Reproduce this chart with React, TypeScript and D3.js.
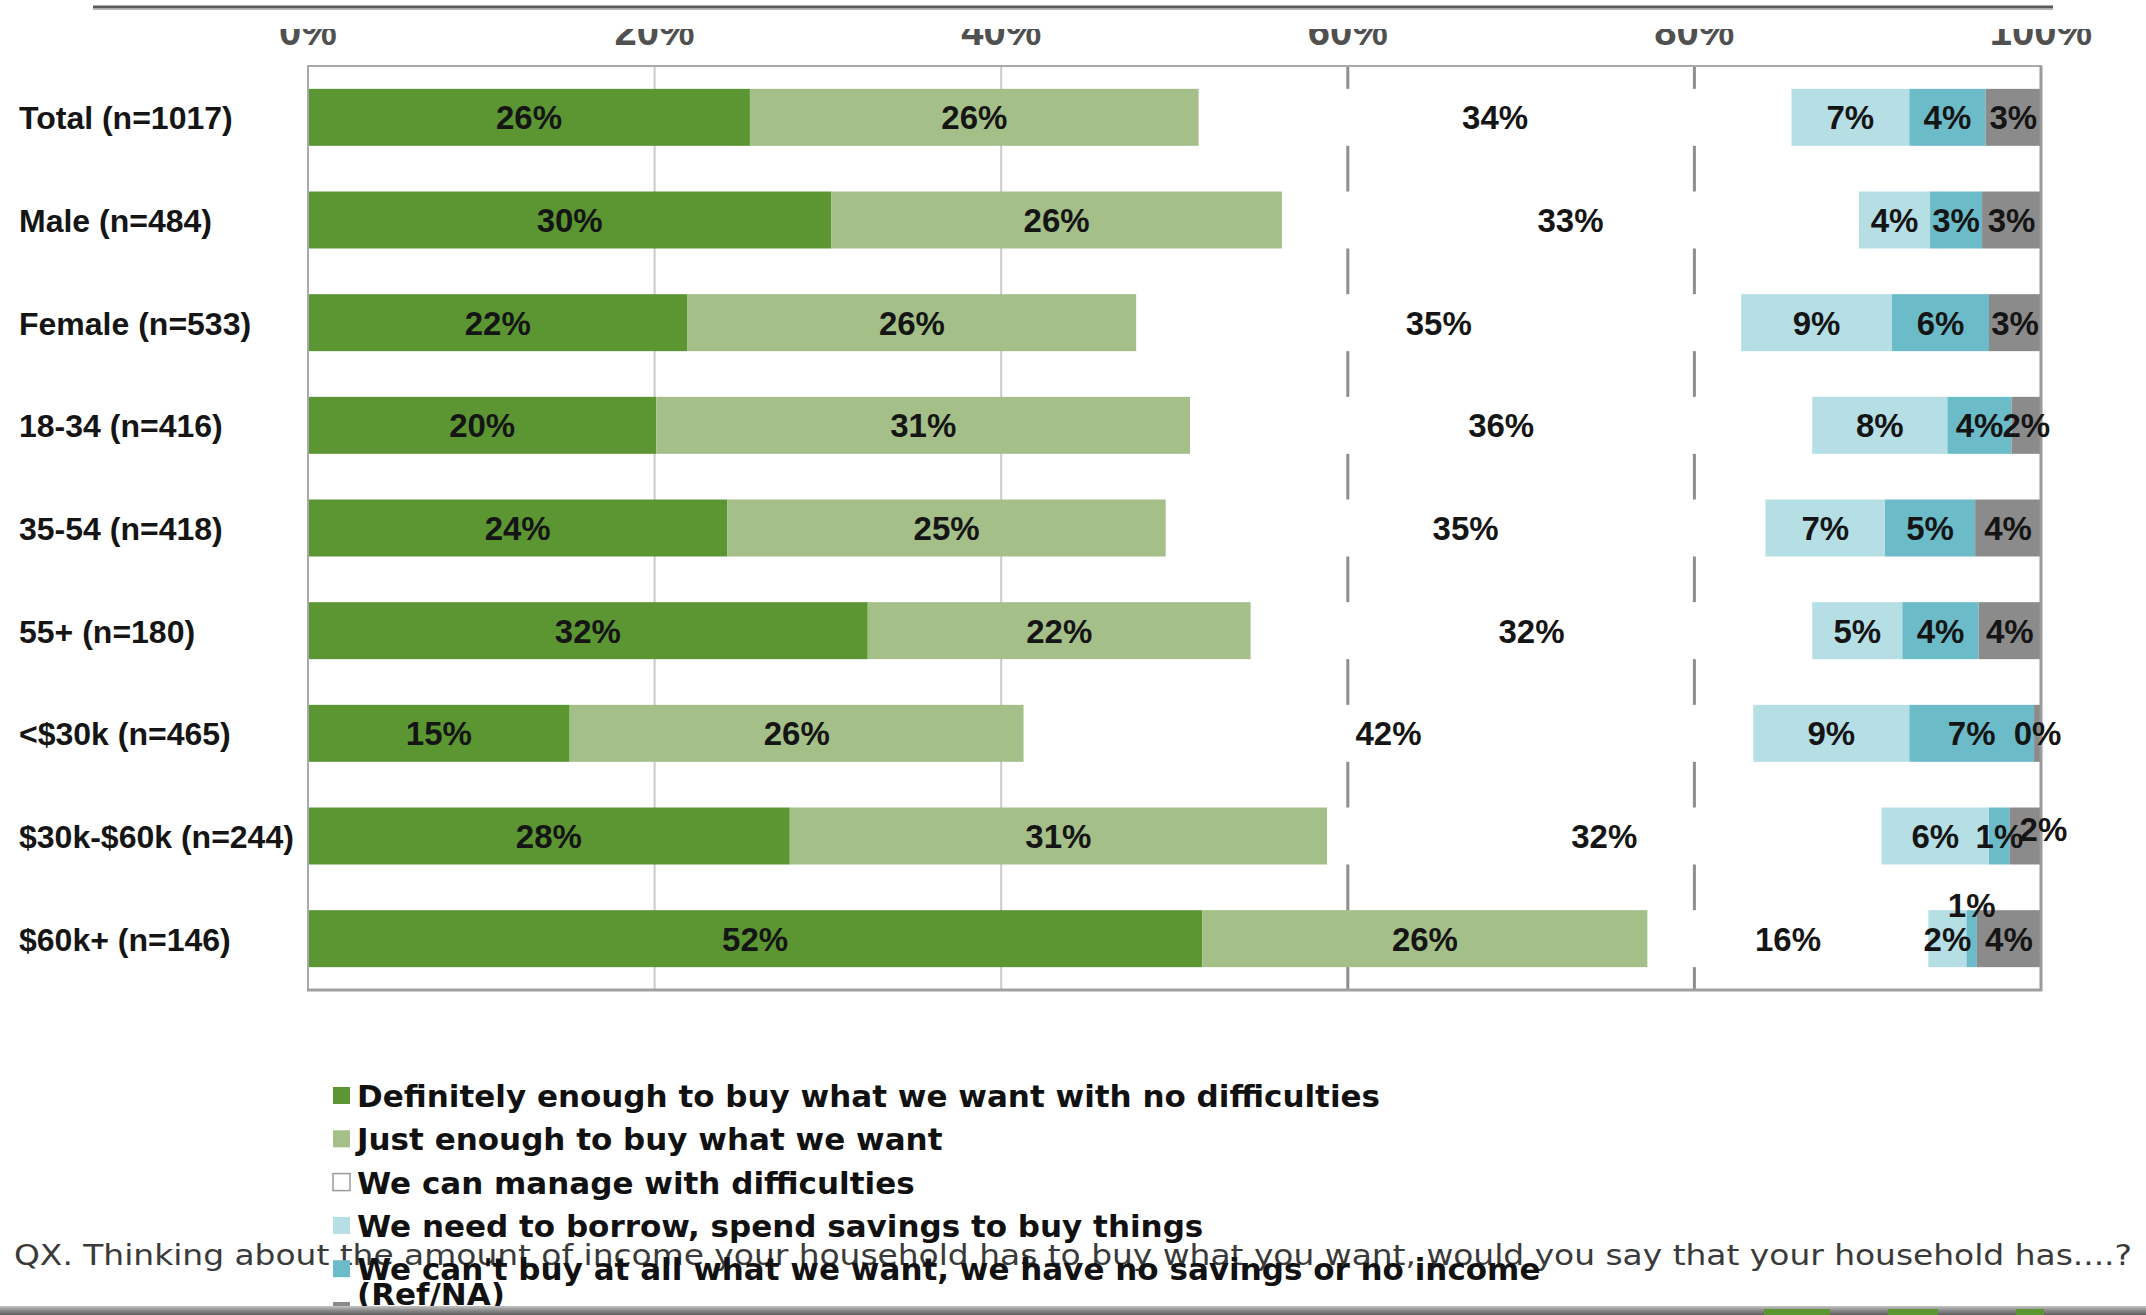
import React from "react";
import * as d3 from "d3";

const categories = [
  "Total (n=1017)",
  "Male (n=484)",
  "Female (n=533)",
  "18-34 (n=416)",
  "35-54 (n=418)",
  "55+ (n=180)",
  "<$30k (n=465)",
  "$30k-$60k (n=244)",
  "$60k+ (n=146)",
];

const seriesNames = [
  "Definitely enough to buy what we want with no difficulties",
  "Just enough to buy what we want",
  "We can manage with difficulties",
  "We need to borrow, spend savings to buy things",
  "We can't buy at all what we want, we have no savings or no income",
  "(Ref/NA)",
];

const definitelyEnough = [25.5, 30.2, 21.9, 20.1, 24.2, 32.3, 15.1, 27.8, 51.6];
const justEnough = [25.9, 26.0, 25.9, 30.8, 25.3, 22.1, 26.2, 31.0, 25.7];
const manageDifficulties = [34.2, 33.3, 34.9, 35.9, 34.6, 32.4, 42.1, 32.0, 16.2];
const needBorrow = [6.8, 4.1, 8.7, 7.8, 6.9, 5.2, 9.0, 6.2, 2.2];
const cantBuy = [4.4, 3.0, 5.6, 3.7, 5.2, 4.4, 7.2, 1.2, 0.6];
const refNA = [3.2, 3.4, 3.0, 1.7, 3.8, 3.6, 0.4, 1.8, 3.7];

const tickValues = [0, 20, 40, 60, 80, 100];
const footnote =
  "QX. Thinking about the amount of income your household has to buy what you want, would you say that your household has....?";

const colors = ["#5b9633", "#a4bf88", "#ffffff", "#b5dee5", "#6bbcc8", "#8b8b8b"];
const seriesKeys = ["s0", "s1", "s2", "s3", "s4", "s5"];

// label nudges for crowded tiny segments (category index, series index) -> [dx, dy]
const labelNudge: Record<string, [number, number]> = {
  "7-5": [18, -7],
  "8-4": [0, -34],
};

export default function App() {
  const W = 2146;
  const H = 1315;
  const x = d3.scaleLinear().domain([0, 100]).range([308, 2041]);
  const y = d3
    .scaleBand<string>()
    .domain(categories)
    .range([66, 990])
    .paddingInner(0.445)
    .paddingOuter(0.2225);

  const allSeries = [definitelyEnough, justEnough, manageDifficulties, needBorrow, cantBuy, refNA];
  const rows = categories.map((c, i) => {
    const r: any = { cat: c };
    seriesKeys.forEach((k, j) => (r[k] = allSeries[j][i]));
    return r;
  });
  const stacked = d3.stack<any>().keys(seriesKeys)(rows);

  const bw = y.bandwidth();
  const legendY = [1087, 1130.3, 1173.6, 1216.9, 1260.2, 1302];
  const legendTextY = [1107, 1150.3, 1193.6, 1236.9, 1280.2, 1305];

  return (
    <svg
      width={W}
      height={H}
      style={{ position: "absolute", left: 0, top: 0, background: "#fff" }}
    >
      <defs>
        <clipPath id="tickClip">
          <rect x={0} y={29} width={W} height={30} />
        </clipPath>
        <linearGradient id="bottomBand" x1="0" y1="0" x2="0" y2="1">
          <stop offset="0%" stopColor="#c4c4c4" />
          <stop offset="50%" stopColor="#8a8a8a" />
          <stop offset="100%" stopColor="#5e5e5e" />
        </linearGradient>
      </defs>
      <rect x={0} y={0} width={W} height={H} fill="#fff" />

      {/* top rule */}
      <line x1={93} x2={2053} y1={7} y2={7} stroke="#5a5a5a" strokeWidth={3} />
      <line x1={93} x2={2053} y1={9.5} y2={9.5} stroke="#b5b5b5" strokeWidth={1} />

      {/* clipped tick labels */}
      <g clipPath="url(#tickClip)">
        {tickValues.map((t) => (
          <text
            key={t}
            x={x(t)}
            y={45}
            textAnchor="middle"
            fontFamily="'Liberation Sans', Arial, sans-serif"
            fontWeight="bold"
            fontSize={40}
            fill="#505050"
          >
            {t + "%"}
          </text>
        ))}
      </g>

      {/* gridlines */}
      {tickValues
        .filter((t) => t > 0 && t < 100)
        .map((t) => (
          <line
            key={t}
            x1={x(t)}
            x2={x(t)}
            y1={66}
            y2={990}
            stroke={t >= 60 ? "#8e8e8e" : "#c9c9d1"}
            strokeWidth={t >= 60 ? 3 : 2}
          />
        ))}

      {/* bars */}
      {stacked.map((s, si) => (
        <g key={s.key}>
          {s.map((d, ci) => (
            <rect
              key={ci}
              x={x(d[0])}
              y={y(categories[ci])}
              width={x(d[1]) - x(d[0])}
              height={bw}
              fill={colors[si]}
            />
          ))}
        </g>
      ))}

      {/* plot border */}
      <rect
        x={308}
        y={66}
        width={1733}
        height={924}
        fill="none"
        stroke="#a9a9a9"
        strokeWidth={2}
      />
      <line x1={2041} x2={2041} y1={66} y2={991} stroke="#9a9a9a" strokeWidth={3} />
      <line x1={307} x2={2042} y1={990} y2={990} stroke="#a0a0a0" strokeWidth={3} />

      {/* bar labels */}
      {stacked.map((s, si) => (
        <g key={"l" + s.key}>
          {s.map((d, ci) => {
            const nudge = labelNudge[ci + "-" + si] || [0, 0];
            const cx = (x(d[0]) + x(d[1])) / 2 + nudge[0];
            const cy = (y(categories[ci]) as number) + bw / 2 + nudge[1];
            return (
              <text
                key={ci}
                x={cx}
                y={cy + 12}
                textAnchor="middle"
                fontFamily="'Liberation Sans', Arial, sans-serif"
                fontWeight="bold"
                fontSize={33}
                fill="#151515"
              >
                {Math.round(d[1] - d[0]) + "%"}
              </text>
            );
          })}
        </g>
      ))}

      {/* category labels */}
      {categories.map((c) => (
        <text
          key={c}
          x={19}
          y={(y(c) as number) + bw / 2 + 12}
          fontFamily="'Liberation Sans', Arial, sans-serif"
          fontWeight="bold"
          fontSize={32}
          fill="#151515"
        >
          {c}
        </text>
      ))}

      {/* footnote */}
      <text
        x={14}
        y={1265}
        fontFamily="'DejaVu Sans', sans-serif"
        fontSize={29}
        fill="#3a3a3a"
        textLength={2118}
        lengthAdjust="spacingAndGlyphs"
      >
        {footnote}
      </text>

      {/* legend */}
      {seriesNames.map((n, i) => (
        <g key={n}>
          <rect
            x={333}
            y={legendY[i]}
            width={17}
            height={17}
            fill={colors[i]}
            stroke={i === 2 ? "#9a9a9a" : "none"}
            strokeWidth={1.5}
          />
          <text
            x={357}
            y={legendTextY[i]}
            fontFamily="'DejaVu Sans', sans-serif"
            fontWeight="bold"
            fontSize={31}
            fill="#111"
          >
            {n}
          </text>
        </g>
      ))}

      {/* bottom band */}
      <rect x={0} y={1306} width={W} height={9} fill="url(#bottomBand)" />
      {[
        [1764, 1830],
        [1888, 1938],
        [2016, 2044],
      ].map(([a, b], i) => (
        <rect key={i} x={a} y={1309} width={b - a} height={6} fill="#5b9633" />
      ))}
    </svg>
  );
}
